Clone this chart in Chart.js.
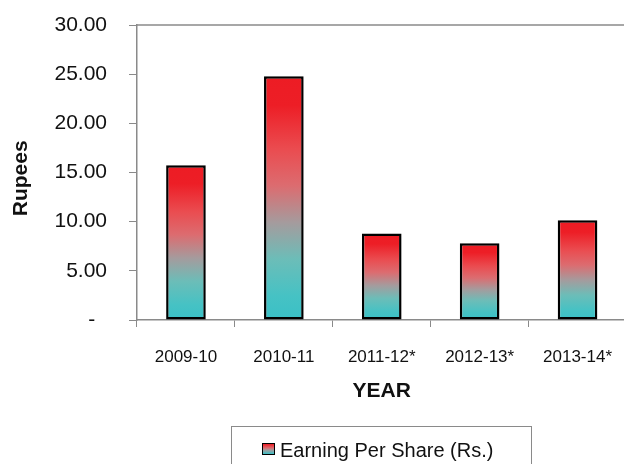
<!DOCTYPE html>
<html>
<head>
<meta charset="utf-8">
<script src="https://cdn.jsdelivr.net/npm/chart.js@4.4.1/dist/chart.umd.min.js"></script>
<style>
  html, body { margin: 0; padding: 0; background: #fff; overflow: hidden; }
  #wrap { position: relative; width: 624px; height: 464px; overflow: hidden; }
  #chart { position: absolute; left: 0; top: 0; }
  #legend {
    position: absolute; left: 231px; top: 426px; width: 301px; height: 60px;
    border: 1px solid #8a8a8a; box-sizing: border-box;
    font-family: "Liberation Sans", Arial, sans-serif; font-size: 20px; color: #111;
  }
  #legend .mark {
    position: absolute; left: 30px; top: 16px; width: 13px; height: 12px;
    border: 1.5px solid #000; box-sizing: border-box;
    background: linear-gradient(#ed1c24, #dc6c70 40%, #a59b9d 60%, #3ac0c6);
  }
  #legend .txt { position: absolute; left: 48px; top: 12px; white-space: nowrap; }
</style>
</head>
<body>
<div id="wrap">
  <canvas id="chart" width="640" height="464"></canvas>
  <div id="legend"><span class="mark"></span><span class="txt">Earning Per Share (Rs.)</span></div>
</div>
<script>
const years = ['2009-10', '2010-11', '2011-12*', '2012-13*', '2013-14*'];
const eps = [15.75, 24.8, 8.8, 7.8, 10.15];
const yTicks = [0, 5, 10, 15, 20, 25, 30];

const GRAY = '#8a8a8a';
const FONT = '"Liberation Sans", Arial, sans-serif';

// red-to-teal fill, stretched over each bar separately
function barFill(c) {
  const chart = c.chart;
  const area = chart.chartArea;
  if (!area || c.parsed == null) return '#ed1c24';
  const yScale = chart.scales.y;
  const top = yScale.getPixelForValue(c.parsed.y);
  const base = yScale.getPixelForValue(0);
  const g = chart.ctx.createLinearGradient(0, top, 0, base);
  g.addColorStop(0, '#ed1c24');
  g.addColorStop(0.12, '#ed1e26');
  g.addColorStop(0.3, '#ea4c50');
  g.addColorStop(0.45, '#dc6c70');
  g.addColorStop(0.6, '#a59b9d');
  g.addColorStop(0.75, '#6cbdb8');
  g.addColorStop(0.9, '#46c2c4');
  g.addColorStop(1, '#3ac0c6');
  return g;
}

const topFrame = {
  id: 'topFrame',
  afterDraw(chart) {
    const { ctx, chartArea: a } = chart;
    ctx.save();
    ctx.strokeStyle = GRAY;
    ctx.lineWidth = 1.5;
    ctx.beginPath();
    ctx.moveTo(a.left, a.top);
    ctx.lineTo(a.right, a.top);
    ctx.stroke();
    ctx.restore();
  }
};

Chart.defaults.font.family = FONT;
Chart.defaults.color = '#111';

new Chart(document.getElementById('chart'), {
  type: 'bar',
  data: {
    labels: years,
    datasets: [{
      label: 'Earning Per Share (Rs.)',
      data: eps,
      backgroundColor: barFill,
      borderColor: '#000',
      borderWidth: 2.5,
      borderSkipped: false,
      categoryPercentage: 1,
      barPercentage: 0.405,
    }],
  },
  options: {
    responsive: false,
    animation: false,
    layout: { padding: { top: 25, left: 0, right: 13.5, bottom: 0 } },
    plugins: { legend: { display: false }, tooltip: { enabled: false } },
    scales: {
      x: {
        afterFit: s => { s.height = 144; s.paddingLeft = 0; s.paddingRight = 0; },
        grid: { drawOnChartArea: false, tickLength: 7, tickColor: GRAY, offset: true },
        border: { color: GRAY, width: 1.5 },
        ticks: { font: { size: 17 }, padding: 20, maxRotation: 0, autoSkip: false },
        title: {
          display: true, text: 'YEAR',
          font: { size: 21, weight: 'bold' },
          padding: { top: 0, bottom: 60 },
        },
      },
      y: {
        min: 0,
        max: 30,
        afterFit: s => { s.width = 137; s.paddingTop = 0; s.paddingBottom = 0; },
        afterBuildTicks: s => { s.ticks = yTicks.map(v => ({ value: v })); },
        grid: { drawOnChartArea: false, tickLength: 8, tickColor: GRAY },
        border: { color: GRAY, width: 1.5 },
        ticks: {
          font: { size: 21 },
          padding: 22,
          callback: v => (v === 0 ? '-  ' : v.toFixed(2)),
        },
        title: {
          display: true, text: 'Rupees  ',
          font: { size: 21, weight: 'bold' },
          padding: { top: 9, bottom: 0 },
        },
      },
    },
  },
  plugins: [topFrame],
});
</script>
</body>
</html>
